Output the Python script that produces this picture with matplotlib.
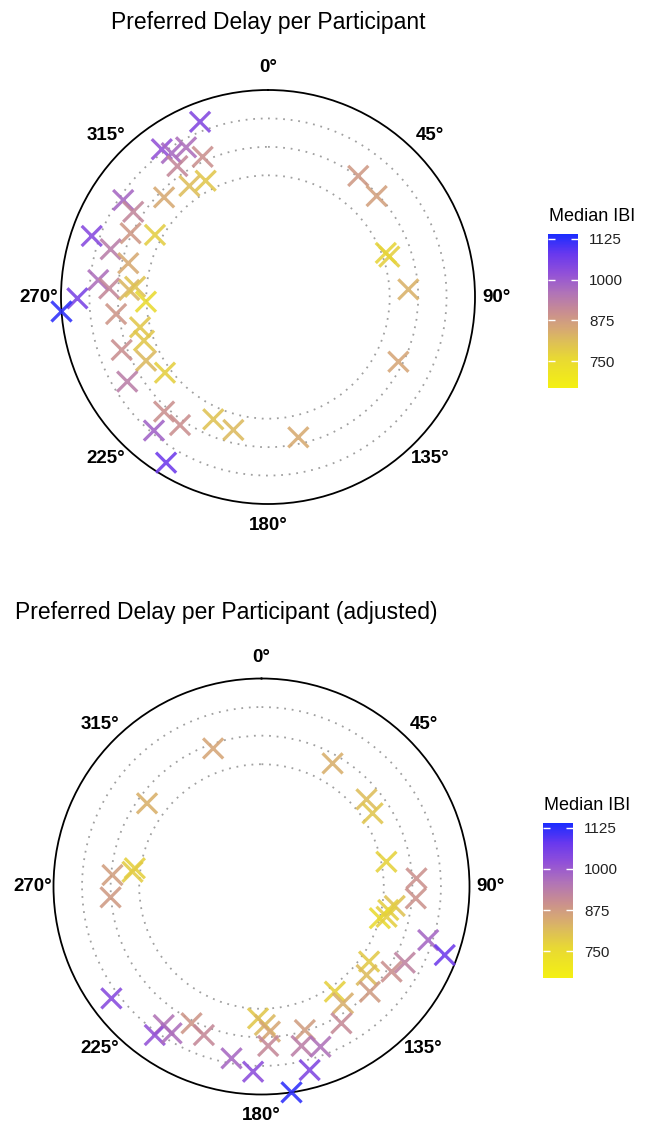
import numpy as np
import matplotlib
matplotlib.use("Agg")
import matplotlib.pyplot as plt
from matplotlib.colors import LinearSegmentedColormap, Normalize
from matplotlib.cm import ScalarMappable

plt.rcParams['font.family'] = ['Liberation Sans', 'DejaVu Sans']

# preferred delay (degrees) and median IBI (ms) per participant
angle_raw = [338.8, 324.3, 326.2, 331.3, 335.0, 325.3, 324.7, 331.8, 313.8, 303.8,
             302.3, 294.9, 298.8, 289.1, 286.9, 283.6, 275.7, 273.1, 272.9, 274.4,
             267.8, 269.6, 266.0, 263.6, 256.7, 250.6, 250.1, 242.4, 233.7, 239.0,
             222.2, 214.5, 204.1, 194.6, 220.5, 167.8, 211.6, 36.7, 47.1, 71.6,
             69.5, 86.9, 116.4]
ibi_raw = [1041, 1015, 976, 965, 895, 915, 813, 795, 848, 981,
           916, 881, 782, 1035, 938, 847, 965, 914, 826, 801,
           752, 1053, 1125, 887, 793, 793, 899, 820, 777, 937,
           895, 898, 804, 819, 987, 846, 1070, 879, 867, 777,
           768, 833, 855]

angle_adj = [340.7, 30.0, 306.0, 50.3, 56.6, 78.8, 278.2, 276.5, 274.4, 265.9,
             87.0, 94.4, 98.3, 100.5, 105.0, 103.6, 107.8, 110.5, 124.9, 118.0,
             123.2, 130.1, 134.2, 145.1, 145.1, 149.7, 233.3, 181.5, 178.6, 176.7,
             177.6, 163.2, 165.9, 159.8, 207.1, 201.2, 215.2, 215.7, 211.5, 189.9,
             182.6, 165.3, 171.7]
ibi_adj = [855, 837, 834, 812, 797, 772, 775, 783, 869, 877,
           894, 892, 804, 779, 751, 778, 981, 1071, 789, 925,
           895, 816, 876, 776, 838, 908, 1034, 792, 821, 851,
           913, 871, 934, 962, 887, 912, 957, 1015, 968, 978,
           1026, 1045, 1125]

ring_breaks = [750, 875, 1000]
cbar_ticks = [750, 875, 1000, 1125]
theta_labels = [0, 45, 90, 135, 180, 225, 270, 315]

vmin, vmax = 668, 1140
nodes = [(668, '#F4F012'), (760, '#E8D834'), (810, '#DDBE58'), (850, '#D6A874'),
         (900, '#C98E90'), (960, '#B073B8'), (1020, '#9150D8'), (1080, '#6838EE'),
         (1140, '#1A2CFF')]
cmap = LinearSegmentedColormap.from_list(
    'ibi', [((v - vmin) / (vmax - vmin), c) for v, c in nodes])
norm = Normalize(vmin=vmin, vmax=vmax)

W, H = 654, 1126
fig = plt.figure(figsize=(W / 100, H / 100), dpi=100)


def polar_panel(cx, cy, R, angles, ibi):
    ax = fig.add_axes([(cx - R) / W, (H - cy - R) / H, 2 * R / W, 2 * R / H],
                      projection='polar')
    ax.set_theta_zero_location('N')
    ax.set_theta_direction(-1)
    ax.set_ylim(215, 1125)
    ax.set_yticks(ring_breaks)
    ax.set_yticklabels([])
    ax.set_xticks([])
    ax.yaxis.grid(True, color='#A0A0A0', linestyle=(0, (1, 3.2)), linewidth=1.3)
    ax.xaxis.grid(False)
    ax.spines['polar'].set_color('black')
    ax.spines['polar'].set_linewidth(1.3)
    ax.scatter(np.deg2rad(angles), ibi, c=ibi, cmap=cmap, norm=norm, marker='x',
               s=210, linewidths=2.3, alpha=0.88, clip_on=False, zorder=3)
    f = 229 / R
    for d in theta_labels:
        t = np.deg2rad(d)
        ax.text(0.5 + 0.5 * f * np.sin(t), 0.5 + 0.5 * f * np.cos(t), f"{d}°",
                transform=ax.transAxes, ha='center', va='center',
                fontsize=13.5, fontweight='bold')
    return ax


def legend_bar(x0, top, bottom):
    cax = fig.add_axes([x0 / W, (H - bottom) / H, 30 / W, (bottom - top) / H])
    cb = fig.colorbar(ScalarMappable(norm=norm, cmap=cmap), cax=cax, ticks=cbar_ticks)
    cb.outline.set_visible(False)
    cax.tick_params(direction='in', length=5, width=1, color='white',
                    left=True, right=True, labelsize=11, labelcolor='#222222', pad=8)
    cax.minorticks_off()
    fig.text((x0 + 1) / W, 1 - (top - 17.5) / H, "Median IBI", ha='left',
             va='center', fontsize=13)


polar_panel(268, 297, 207, angle_raw, ibi_raw)
fig.text(268 / W, 1 - 23 / H, "Preferred Delay per Participant",
         ha='center', va='center', fontsize=16.5)
legend_bar(548, 234, 388)

polar_panel(261.5, 886.5, 208, angle_adj, ibi_adj)
fig.text(15 / W, 1 - 613 / H, "Preferred Delay per Participant (adjusted)",
         ha='left', va='center', fontsize=16.5)
legend_bar(543, 823, 978)

fig.savefig("out.png", dpi=100, facecolor='white')
